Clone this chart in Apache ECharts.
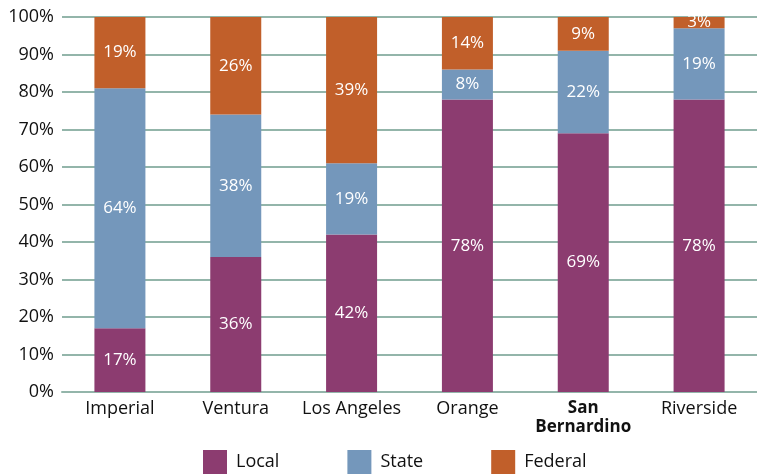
<!DOCTYPE html>
<html><head><meta charset="utf-8">
<script src="https://cdn.jsdelivr.net/npm/echarts@6/dist/echarts.min.js"></script>
<style>html,body{margin:0;padding:0;background:#fff}#c{width:757px;height:474px}</style>
</head><body><div id="c"></div>
<script>
const categories = ['Imperial', 'Ventura', 'Los Angeles', 'Orange', 'San\nBernardino', 'Riverside'];
const local = [17, 36, 42, 78, 69, 78];
const state = [64, 38, 19, 8, 22, 19];
const federal = [19, 26, 39, 14, 9, 3];
const yTicks = [0, 10, 20, 30, 40, 50, 60, 70, 80, 90, 100];

const FONT = '"Open Sans", "Noto Sans", sans-serif';
const chart = echarts.init(document.getElementById('c'), null, {renderer: 'canvas'});
const lbl = {show: true, position: 'inside', color: '#fff', fontSize: 17, fontFamily: FONT,
  textBorderWidth: 0, textShadowBlur: 0, formatter: p => p.value + '%'};
function ser(name, data, color) {
  return {name, type: 'bar', stack: 'all', data, barWidth: 51, itemStyle: {color}, label: lbl, z: 3};
}
chart.setOption({
  animation: false,
  grid: {left: 62, top: 17, width: 700, height: 375, containLabel: false},
  legend: {
    left: 203, top: 450, padding: 0, itemWidth: 24, itemHeight: 24, itemGap: 68, icon: 'rect',
    textStyle: {fontSize: 18, fontFamily: FONT, color: '#111', padding: [0, 0, 0, 4]},
    data: ['Local', 'State', 'Federal']
  },
  xAxis: {
    type: 'category', data: categories,
    axisLine: {show: true, lineStyle: {color: '#93b5aa', width: 2}},
    axisTick: {show: false},
    axisLabel: {
      interval: 0,
      fontSize: 18, fontFamily: FONT, color: '#111', margin: 7, lineHeight: 19,
      formatter: v => v.indexOf('\n') >= 0 ? '{b|' + v.replace('\n', '}\n{b|') + '}' : v,
      rich: {b: {fontWeight: 'bold', fontSize: 17, fontFamily: FONT, color: '#111', lineHeight: 19}}
    }
  },
  yAxis: {
    type: 'value', min: 0, max: 100, interval: 10,
    axisLine: {show: false}, axisTick: {show: false},
    axisLabel: {fontSize: 18, fontFamily: FONT, color: '#111', margin: 8,
      formatter: v => yTicks.includes(v) ? v + '%' : ''},
    splitLine: {show: true, lineStyle: {color: '#93b5aa', width: 2}}
  },
  series: [
    ser('Local', local, '#8c3c70'),
    ser('State', state, '#7497bb'),
    ser('Federal', federal, '#c15f2a')
  ]
});
</script></body></html>
